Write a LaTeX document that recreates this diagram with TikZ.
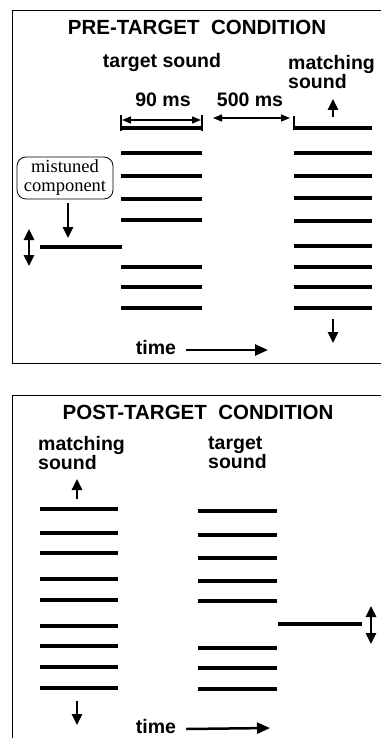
\documentclass[tikz,border=0pt]{standalone}
\usepackage{fontspec}
\setmainfont{Liberation Serif}
\setsansfont{Liberation Sans}
\usetikzlibrary{arrows.meta}

\tikzset{
	bar/.style={line width=4pt,line cap=butt},
	frame/.style={line width=1pt},
	tick/.style={line width=1.2pt},
	thin arrow/.style={line width=1.4pt,{Triangle[length=9pt,width=7pt]}-{Triangle[length=9pt,width=7pt]}},
	fat arrow/.style={line width=2.5pt,-{Triangle[length=11pt,width=10pt]}},
	fat double/.style={line width=2.5pt,{Triangle[length=11pt,width=10pt]}-{Triangle[length=11pt,width=10pt]}},
	time arrow/.style={line width=2.5pt,-{Triangle[length=13pt,width=11pt]}},
	label/.style={font=\sffamily\bfseries\fontsize{19.5}{18}\selectfont,inner sep=0pt},
	heading/.style={font=\sffamily\bfseries\fontsize{20.5}{21}\selectfont,inner sep=0pt}
}

\begin{document}
\begin{tikzpicture}[line join=round,x=1pt,y=-1pt]
			\useasboundingbox (0,0) rectangle (380,738);
			%%%%%%%%%%%%%%% P R E - T A R G E T %%%%%%%%%%%%%%%%
			%frame
			\draw [frame] (381,11) -- (12,11) -- (12,363) -- (381,363);
			%tags
			\node[heading] (pretitle) at (197,27) {PRE-TARGET\ \ CONDITION};
			\node[label] (pretarget) at (162,63) {target sound};
			\node[label,align=left,anchor=west] (prematch) at (288,72) {matching\\sound};
			\node[label] (preninety) at (163,100) {90 ms};
			\node[label] (prefive) at (250,100) {500 ms};
			\node[draw,line width=0.8pt,rounded corners=9pt,align=center,inner sep=0pt,
				minimum width=96pt,minimum height=42pt,
				font=\rmfamily\fontsize{18.5}{19}\selectfont] (mistuned) at (65,178) {mistuned\\component};
			\node[label] (pretime) at (156,348) {time};
			%target sound
			\foreach \y in {128,153,176,199,220,267,287,308}
				\draw [bar] (121,\y) -- (202,\y);
			%mistuned component
			\draw [bar] (40,247) -- (122,247);
			%matching sound
			\foreach \y in {128,153,176,198,221,246,267,287,308}
				\draw [bar] (294,\y) -- (372,\y);
			%durations
			\coordinate (ta) at (121,115);
			\coordinate (tb) at (121,131);
			\coordinate (tc) at (202,115);
			\coordinate (td) at (202,131);
			\coordinate (te) at (294,116);
			\coordinate (tf) at (294,130);
			\draw [tick] (ta) -- (tb);
			\draw [tick] (tc) -- (td);
			\draw [tick] (te) -- (tf);
			\draw [thin arrow] (122,120) -- (201,120);
			\draw [thin arrow] (213,118) -- (290,118);
			%arrows
			\coordinate (mtip) at (68,238);
			\draw [fat arrow,shorten <=4pt] (mistuned.south -| mtip) -- (mtip);
			\draw [fat double] (29,229) -- (29,266);
			\draw [fat arrow] (333,117) -- (333,99);
			\draw [fat arrow] (333,319) -- (333,343);
			\coordinate (pretimeend) at (268,350);
			\draw [time arrow] (pretime.east) ++(10,2) -- (pretimeend);
			%%%%%%%%%%%%%%% P O S T - T A R G E T %%%%%%%%%%%%%%%%
			%frame
			\draw [frame] (381,395) -- (12,395) -- (12,739);
			%tags
			\node[heading] (posttitle) at (198,412) {POST-TARGET\ \ CONDITION};
			\node[label,align=left,anchor=west] (postmatch) at (38,453) {matching\\sound};
			\node[label,align=left,anchor=west] (posttarget) at (208,453) {target\\sound};
			\node[label] (posttime) at (156,727) {time};
			%matching sound
			\foreach \y in {509,533,553,579,600,626,646,667,688}
				\draw [bar] (40,\y) -- (118,\y);
			%target sound
			\foreach \y in {511,535,558,581,601,648,668,689}
				\draw [bar] (198,\y) -- (277,\y);
			%mistuned component
			\draw [bar] (278,624) -- (362,624);
			%arrows
			\draw [fat arrow] (77,499) -- (77,479);
			\draw [fat arrow] (77,701) -- (77,725);
			\draw [fat double] (371,606) -- (371,644);
			\coordinate (posttimeend) at (270,728);
			\draw [time arrow] (posttime.east) ++(10,2) -- (posttimeend);
		\end{tikzpicture}
\end{document}
